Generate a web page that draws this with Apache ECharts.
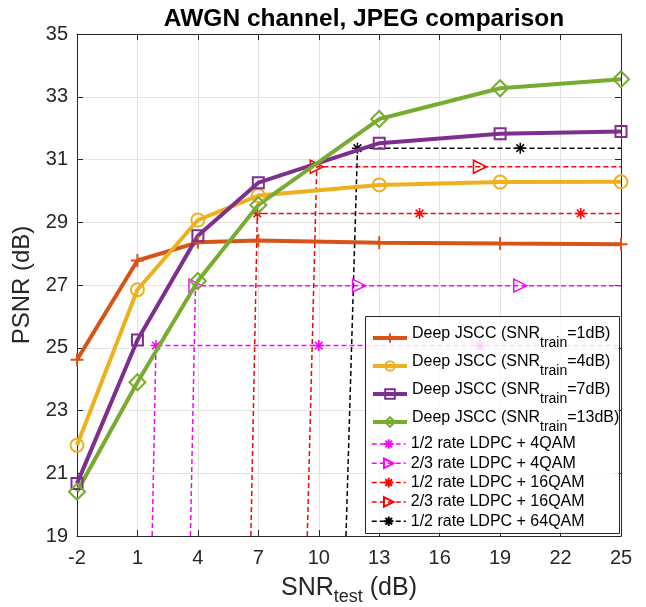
<!DOCTYPE html>
<html>
<head>
<meta charset="utf-8">
<script src="https://cdn.jsdelivr.net/npm/echarts@6/dist/echarts.min.js"></script>
<style>html,body{margin:0;padding:0;background:#fff}#c{width:646px;height:607px}</style>
</head>
<body>
<div id="c"></div>
<script>
// ---- data ----
const snrTest = [-2, 1, 4, 7, 13, 19, 25];
const psnrTrain1 = [24.62, 27.78, 28.36, 28.42, 28.35, 28.32, 28.30];
const psnrTrain4 = [21.89, 26.85, 29.07, 29.85, 30.19, 30.28, 30.29];
const psnrTrain7 = [20.67, 25.25, 28.57, 30.26, 31.52, 31.82, 31.89];
const psnrTrain13 = [20.41, 23.90, 27.13, 29.55, 32.29, 33.27, 33.56];

const ldpc12q4X = [1.73, 1.92, 10, 18, 25];
const ldpc12q4Y = [19, 25.07, 25.07, 25.07, 25.07];
const ldpc12q4Marks = [1, 2, 3];
const ldpc23q4X = [3.63, 3.88, 12, 20, 25];
const ldpc23q4Y = [19, 26.98, 26.98, 26.98, 26.98];
const ldpc23q4Marks = [1, 2, 3];
const ldpc12q16X = [6.63, 6.95, 15, 23, 25];
const ldpc12q16Y = [19, 29.28, 29.28, 29.28, 29.28];
const ldpc12q16Marks = [1, 2, 3];
const ldpc23q16X = [9.43, 9.9, 18, 25];
const ldpc23q16Y = [19, 30.77, 30.77, 30.77];
const ldpc23q16Marks = [1, 2];
const ldpc12q64X = [11.35, 11.92, 20, 25];
const ldpc12q64Y = [19, 31.36, 31.36, 31.36];
const ldpc12q64Marks = [1, 2];

const xTickLabels = [-2, 1, 4, 7, 10, 13, 16, 19, 22, 25];
const yTickLabels = [19, 21, 23, 25, 27, 29, 31, 33, 35];

const jsccNames = ['Deep JSCC (SNR_train=1dB)', 'Deep JSCC (SNR_train=4dB)', 'Deep JSCC (SNR_train=7dB)', 'Deep JSCC (SNR_train=13dB)'];
const ldpcNames = ['1/2 rate LDPC + 4QAM', '2/3 rate LDPC + 4QAM', '1/2 rate LDPC + 16QAM', '2/3 rate LDPC + 16QAM', '1/2 rate LDPC + 64QAM'];

// ---- styles ----
const FONT = '"Liberation Sans", Arial, Helvetica, sans-serif';
const TXT = '#262626';
const SYM_PLUS = 'path://M-10,0L10,0M0,-10L0,10';
const SYM_STAR = 'path://M-10,0L10,0M0,-10L0,10M-7,-7L7,7M-7,7L7,-7';
const SYM_TRI = 'path://M-8,-10L10,0L-8,10Z';
const SYM_DIAM = 'path://M0,-10L7,0L0,10L-7,0Z';

function jscc(name, ys, color, symbol, size) {
  return {
    name: name, type: 'line', xAxisIndex: 0, yAxisIndex: 0,
    data: snrTest.map((x, i) => [x, ys[i]]),
    symbol: symbol, symbolSize: size, showAllSymbol: true,
    lineStyle: {color: color, width: 4},
    itemStyle: {color: 'rgba(255,255,255,0)', borderColor: color, borderWidth: 2},
    z: 3, animation: false
  };
}
function ldpc(name, xs, ys, marks, color, symbol, size) {
  return {
    name: name, type: 'line', xAxisIndex: 0, yAxisIndex: 0,
    data: xs.map((x, i) => marks.indexOf(i) >= 0 ? {value: [x, ys[i]]} : {value: [x, ys[i]], symbol: 'none'}),
    symbol: symbol, symbolSize: size, showAllSymbol: true,
    lineStyle: {color: color, width: 1.5, type: [5, 3]},
    itemStyle: {color: 'rgba(255,255,255,0)', borderColor: color, borderWidth: 1.5},
    z: 2, animation: false
  };
}

const MAG = '#FF00FF', RED = '#FF0000', BLK = '#000000';
const series = [
  jscc(jsccNames[0], psnrTrain1, '#D95319', SYM_PLUS, 13),
  jscc(jsccNames[1], psnrTrain4, '#EDB120', 'circle', 13),
  jscc(jsccNames[2], psnrTrain7, '#7E2F8E', 'rect', 11),
  jscc(jsccNames[3], psnrTrain13, '#77AC30', SYM_DIAM, 16),
  ldpc(ldpcNames[0], ldpc12q4X, ldpc12q4Y, ldpc12q4Marks, MAG, SYM_STAR, 11),
  ldpc(ldpcNames[1], ldpc23q4X, ldpc23q4Y, ldpc23q4Marks, MAG, SYM_TRI, 13),
  ldpc(ldpcNames[2], ldpc12q16X, ldpc12q16Y, ldpc12q16Marks, RED, SYM_STAR, 11),
  ldpc(ldpcNames[3], ldpc23q16X, ldpc23q16Y, ldpc23q16Marks, RED, SYM_TRI, 13),
  ldpc(ldpcNames[4], ldpc12q64X, ldpc12q64Y, ldpc12q64Marks, BLK, SYM_STAR, 11)
];

const chart = echarts.init(document.getElementById('c'), null, {renderer: 'canvas'});
const axisBase = {
  axisLine: {show: true, onZero: false, lineStyle: {color: TXT, width: 1}},
  axisTick: {show: true, inside: true, length: 6, lineStyle: {color: TXT}},
};
chart.setOption({
  animation: false,
  backgroundColor: '#fff',
  title: {
    text: 'AWGN channel, JPEG comparison', left: 359, top: 2, textAlign: 'center',
    textStyle: {fontFamily: FONT, fontWeight: 'bold', fontSize: 24.5, color: '#000'}
  },
  grid: {left: 77, right: 25, top: 34, bottom: 71, containLabel: false, outerBoundsMode: 'none'},
  xAxis: [
    Object.assign({}, axisBase, {
      type: 'value', min: -2, max: 25, interval: 3, position: 'bottom',
      axisTick: {show: true, inside: true, length: 6, lineStyle: {color: TXT}, customValues: xTickLabels},
      axisLabel: {show: true, fontFamily: FONT, fontSize: 20, color: TXT, margin: 12, customValues: xTickLabels},
      splitLine: {show: true, lineStyle: {color: '#e3e3e3', width: 1}},
      name: '{a|SNR}{s|test}{a| (dB)}', nameLocation: 'middle', nameGap: 40,
      nameTextStyle: {rich: {
        a: {fontFamily: FONT, fontSize: 25, color: TXT, lineHeight: 30, verticalAlign: 'top'},
        s: {fontFamily: FONT, fontSize: 18, color: TXT, lineHeight: 30, verticalAlign: 'bottom', padding: [12, 0, 0, 0]}
      }}
    }),
    Object.assign({}, axisBase, {
      type: 'value', min: -2, max: 25, interval: 3, position: 'top',
      axisTick: {show: true, inside: true, length: 6, lineStyle: {color: TXT}, customValues: xTickLabels},
      axisLabel: {show: false}, splitLine: {show: false}
    })
  ],
  yAxis: [
    Object.assign({}, axisBase, {
      type: 'value', min: 19, max: 35, interval: 2, position: 'left',
      axisTick: {show: true, inside: true, length: 6, lineStyle: {color: TXT}, customValues: yTickLabels},
      axisLabel: {show: true, fontFamily: FONT, fontSize: 20, color: TXT, margin: 9, customValues: yTickLabels},
      splitLine: {show: true, lineStyle: {color: '#e3e3e3', width: 1}},
      name: 'PSNR (dB)', nameLocation: 'middle', nameGap: 40, nameRotate: 90,
      nameTextStyle: {fontFamily: FONT, fontSize: 24, color: TXT}
    }),
    Object.assign({}, axisBase, {
      type: 'value', min: 19, max: 35, interval: 2, position: 'right',
      axisTick: {show: true, inside: true, length: 6, lineStyle: {color: TXT}, customValues: yTickLabels},
      axisLabel: {show: false}, splitLine: {show: false}
    })
  ],
  graphic: [{
    type: 'rect', z: 3, zlevel: 0,
    shape: {x: 365.5, y: 316.5, width: 254, height: 217},
    style: {fill: 'rgba(255,255,255,0.82)', stroke: TXT, lineWidth: 1}
  }],
  legend: [
    {
      data: jsccNames, orient: 'vertical', left: 366, top: 321, z: 5,
      itemWidth: 34, itemHeight: 12, itemGap: 4,
      lineStyle: {width: 4},
      formatter: function (n) {
        const m = n.match(/^(.*SNR)_train(=.*)$/);
        return '{a|' + m[1] + '}{s|train}{a|' + m[2] + '}';
      },
      textStyle: {rich: {
        a: {fontFamily: FONT, fontSize: 16, color: '#000', lineHeight: 24, verticalAlign: 'top'},
        s: {fontFamily: FONT, fontSize: 14, color: '#000', lineHeight: 24, verticalAlign: 'bottom', padding: [9, 0, 0, 0]}
      }},
      selectedMode: false
    },
    {
      data: ldpcNames, orient: 'vertical', left: 366, top: 430, z: 5,
      itemWidth: 34, itemHeight: 12, itemGap: 1.3,
      lineStyle: {width: 1.5},
      textStyle: {fontFamily: FONT, fontSize: 16, color: '#000', lineHeight: 18},
      selectedMode: false
    }
  ],
  series: series
});
</script>
</body>
</html>
